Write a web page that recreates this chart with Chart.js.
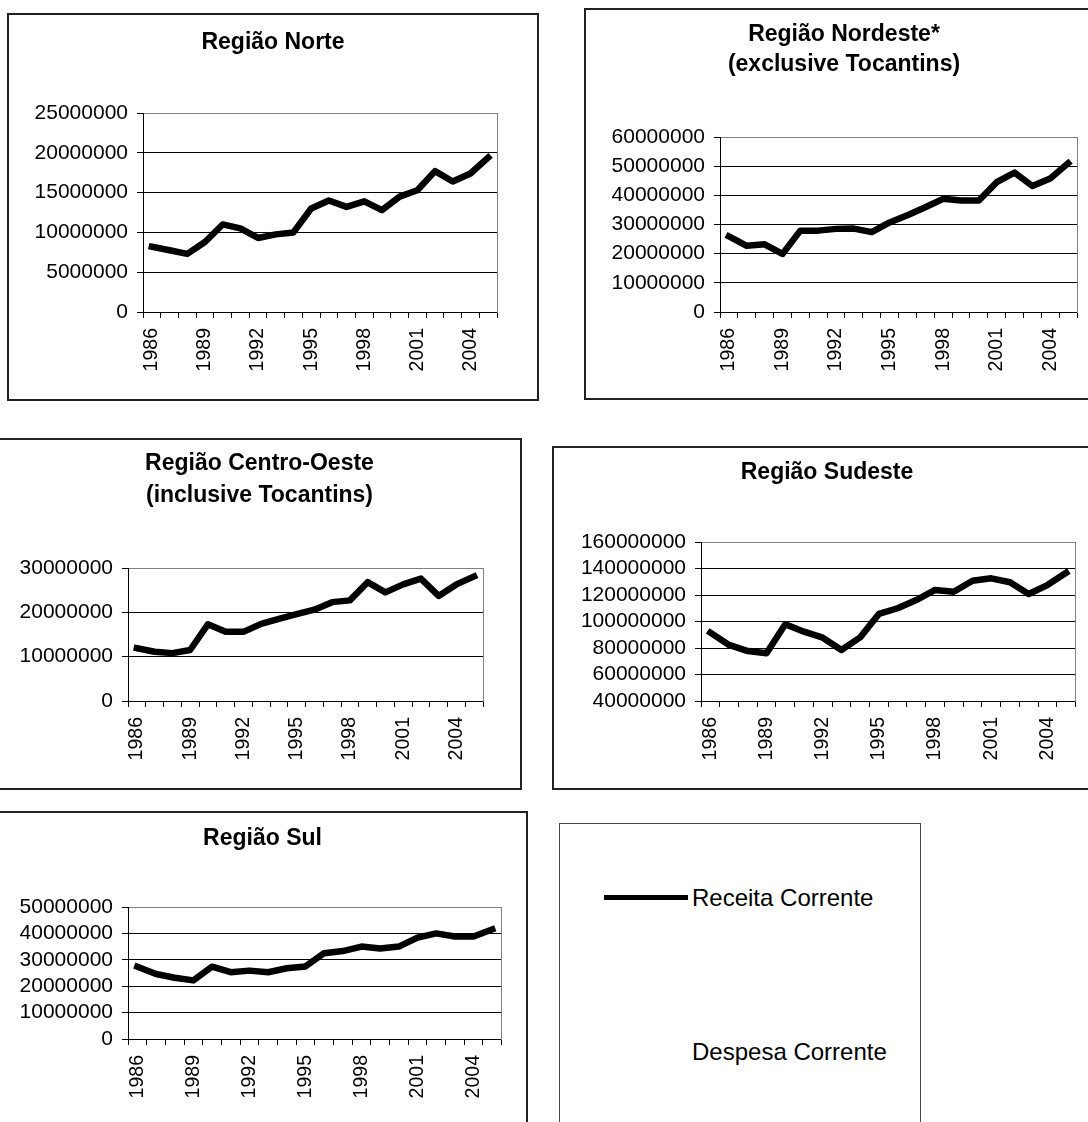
<!DOCTYPE html>
<html>
<head>
<meta charset="utf-8">
<script src="https://cdn.jsdelivr.net/npm/chart.js@4/dist/chart.umd.min.js"></script>
<style>
html,body{margin:0;padding:0;background:#fff;width:1088px;height:1122px;overflow:hidden;position:relative;font-family:'Liberation Sans',Arial,sans-serif;}
.box{position:absolute;border:2px solid #222;box-sizing:border-box;background:#fff;}
.box canvas{position:absolute;left:0;top:0;}
.legbox{position:absolute;border:1px solid #444;box-sizing:border-box;background:#fff;}
.legtxt{position:absolute;font-size:24px;line-height:28px;color:#000;white-space:nowrap;}
.legline{position:absolute;height:5px;}
</style>
</head>
<body>
<script>
// ---- data ----
const years = ['1986','1987','1988','1989','1990','1991','1992','1993','1994','1995','1996','1997','1998','1999','2000','2001','2002','2003','2004','2005'];
const shownYears = ['1986','1989','1992','1995','1998','2001','2004'];

const norte    = [8200000, 7750000, 7300000, 8800000, 11000000, 10500000, 9300000, 9750000, 10000000, 13000000, 14000000, 13200000, 13900000, 12800000, 14500000, 15300000, 17700000, 16400000, 17400000, 19400000];
const nordeste = [25900000, 22700000, 23200000, 19900000, 27900000, 27900000, 28500000, 28600000, 27400000, 30700000, 33200000, 35900000, 38800000, 38200000, 38200000, 44500000, 47800000, 43200000, 45800000, 51000000];
const centroOeste = [11900000, 11100000, 10800000, 11500000, 17300000, 15600000, 15600000, 17400000, 18500000, 19600000, 20600000, 22300000, 22700000, 26800000, 24500000, 26300000, 27600000, 23700000, 26300000, 28100000];
const sudeste  = [91600000, 82300000, 77700000, 76000000, 97900000, 92300000, 87800000, 78500000, 88000000, 105700000, 110000000, 116200000, 123800000, 122500000, 130800000, 132600000, 129600000, 120800000, 127500000, 136800000];
const sul      = [27400000, 24600000, 23200000, 22200000, 27400000, 25300000, 25900000, 25300000, 26800000, 27500000, 32500000, 33300000, 35000000, 34300000, 35000000, 38400000, 40000000, 38800000, 38800000, 41500000];

const titleNorte = ['Região Norte'];
const titleNordeste = ['Região Nordeste*', '(exclusive Tocantins)'];
const titleCentro = ['Região Centro-Oeste', '(inclusive Tocantins)'];
const titleSudeste = ['Região Sudeste'];
const titleSul = ['Região Sul'];

const seriesName = 'Receita Corrente';
const seriesName2 = 'Despesa Corrente';

// y-axis ranges [min, max, step]
const rangeNorte = [0, 25000000, 5000000];
const rangeNordeste = [0, 60000000, 10000000];
const rangeCentro = [0, 30000000, 10000000];
const rangeSudeste = [40000000, 160000000, 20000000];
const rangeSul = [0, 50000000, 10000000];

// ---- layout (page pixels) ----
const panels = [
  {title: titleNorte, data: norte, range: rangeNorte, box: [7, 13, 539, 401], plot: [143, 113, 497, 312], titleY: 43, lh: 28.6},
  {title: titleNordeste, data: nordeste, range: rangeNordeste, box: [584, 8, 1104, 400], plot: [720, 137, 1082, 312], titleY: 35, lh: 30},
  {title: titleCentro, data: centroOeste, range: rangeCentro, box: [-3, 438, 522, 790], plot: [128, 568, 483, 701], titleY: 464, lh: 32},
  {title: titleSudeste, data: sudeste, range: rangeSudeste, box: [552, 446, 1102, 790], plot: [701, 542, 1081, 701], titleY: 473, lh: 28.6},
  {title: titleSul, data: sul, range: rangeSul, box: [-3, 811, 528, 1140], plot: [128, 907, 511, 1039], titleY: 839, lh: 28.6}
];

Chart.defaults.font.family = "'Liberation Sans', Arial, sans-serif";
Chart.defaults.color = '#000';

panels.forEach(p => {
  const [bl, bt, br, bb] = p.box;
  const [L, T, R, B] = p.plot;
  const div = document.createElement('div');
  div.className = 'box';
  div.style.left = bl + 'px';
  div.style.top = bt + 'px';
  div.style.width = (br - bl) + 'px';
  div.style.height = (bb - bt) + 'px';
  document.body.appendChild(div);
  const cx = bl + 2, cy = bt + 2, cw = br - bl - 4, ch = bb - bt - 4;
  const cv = document.createElement('canvas');
  cv.width = cw; cv.height = ch;
  cv.style.width = cw + 'px'; cv.style.height = ch + 'px';
  div.appendChild(cv);

  const Wy = L - cx;
  const Wr = cx + cw - R;
  const Hx = 70;
  const pb = cy + ch - B - Hx;
  const n = p.title.length;
  const tPadTop = p.titleY - cy - p.lh / 2;
  const tPadBottom = T - cy - tPadTop - n * p.lh;
  const [ymin, ymax, ystep] = p.range;

  new Chart(cv, {
    type: 'line',
    data: {
      labels: years,
      datasets: [{
        label: seriesName,
        data: p.data,
        yAxisID: 'y',
        borderColor: '#000',
        backgroundColor: '#000',
        borderWidth: 6.5,
        pointRadius: 0,
        tension: 0,
        fill: false,
        borderJoinStyle: 'round',
        borderCapStyle: 'square'
      }]
    },
    options: {
      responsive: false,
      animation: false,
      devicePixelRatio: 1,
      layout: {padding: {left: 0, top: 0, right: 0, bottom: pb}},
      plugins: {
        legend: {display: false},
        tooltip: {enabled: false},
        title: {
          display: true,
          text: p.title,
          color: '#000',
          font: {size: 23, weight: 'bold', lineHeight: p.lh / 23},
          padding: {top: tPadTop, bottom: tPadBottom}
        }
      },
      scales: {
        x: {
          offset: true,
          grid: {drawOnChartArea: false, drawTicks: true, tickLength: 6, color: '#000', offset: true},
          border: {color: '#000', width: 1},
          ticks: {
            autoSkip: false, minRotation: 90, maxRotation: 90, padding: 10,
            font: {size: 19.5}, color: '#000',
            callback: (v, i) => shownYears.includes(years[i]) ? years[i] : ''
          },
          afterFit: s => { s.height = Hx; }
        },
        y: {
          position: 'left',
          min: ymin, max: ymax,
          grid: {
            color: c => (c.tick && c.tick.value === ymax) ? '#808080' : '#000',
            tickColor: '#000', tickLength: 6, lineWidth: 1
          },
          border: {color: '#000', width: 1},
          ticks: {
            autoSkip: false, stepSize: ystep, padding: 9, font: {size: 21}, color: '#000',
            callback: v => String(v)
          },
          afterFit: s => { s.width = Wy; }
        },
        yRight: {
          position: 'right',
          min: 0, max: 1,
          grid: {drawOnChartArea: false, drawTicks: false},
          border: {display: true, color: '#808080', width: 1},
          ticks: {display: false},
          afterFit: s => { s.width = Wr; }
        }
      }
    }
  });
});

// legend panel
const leg = document.createElement('div');
leg.className = 'legbox';
leg.style.left = '559px'; leg.style.top = '823px';
leg.style.width = '362px'; leg.style.height = '317px';
leg.innerHTML =
  '<div class="legline" style="left:44px;top:71px;width:84px;background:#000"></div>' +
  '<div class="legtxt" style="left:132px;top:60px">' + seriesName + '</div>' +
  '<div class="legline" style="left:44px;top:225px;width:84px;background:#fff"></div>' +
  '<div class="legtxt" style="left:132px;top:214px">' + seriesName2 + '</div>';
document.body.appendChild(leg);
</script>
</body>
</html>
